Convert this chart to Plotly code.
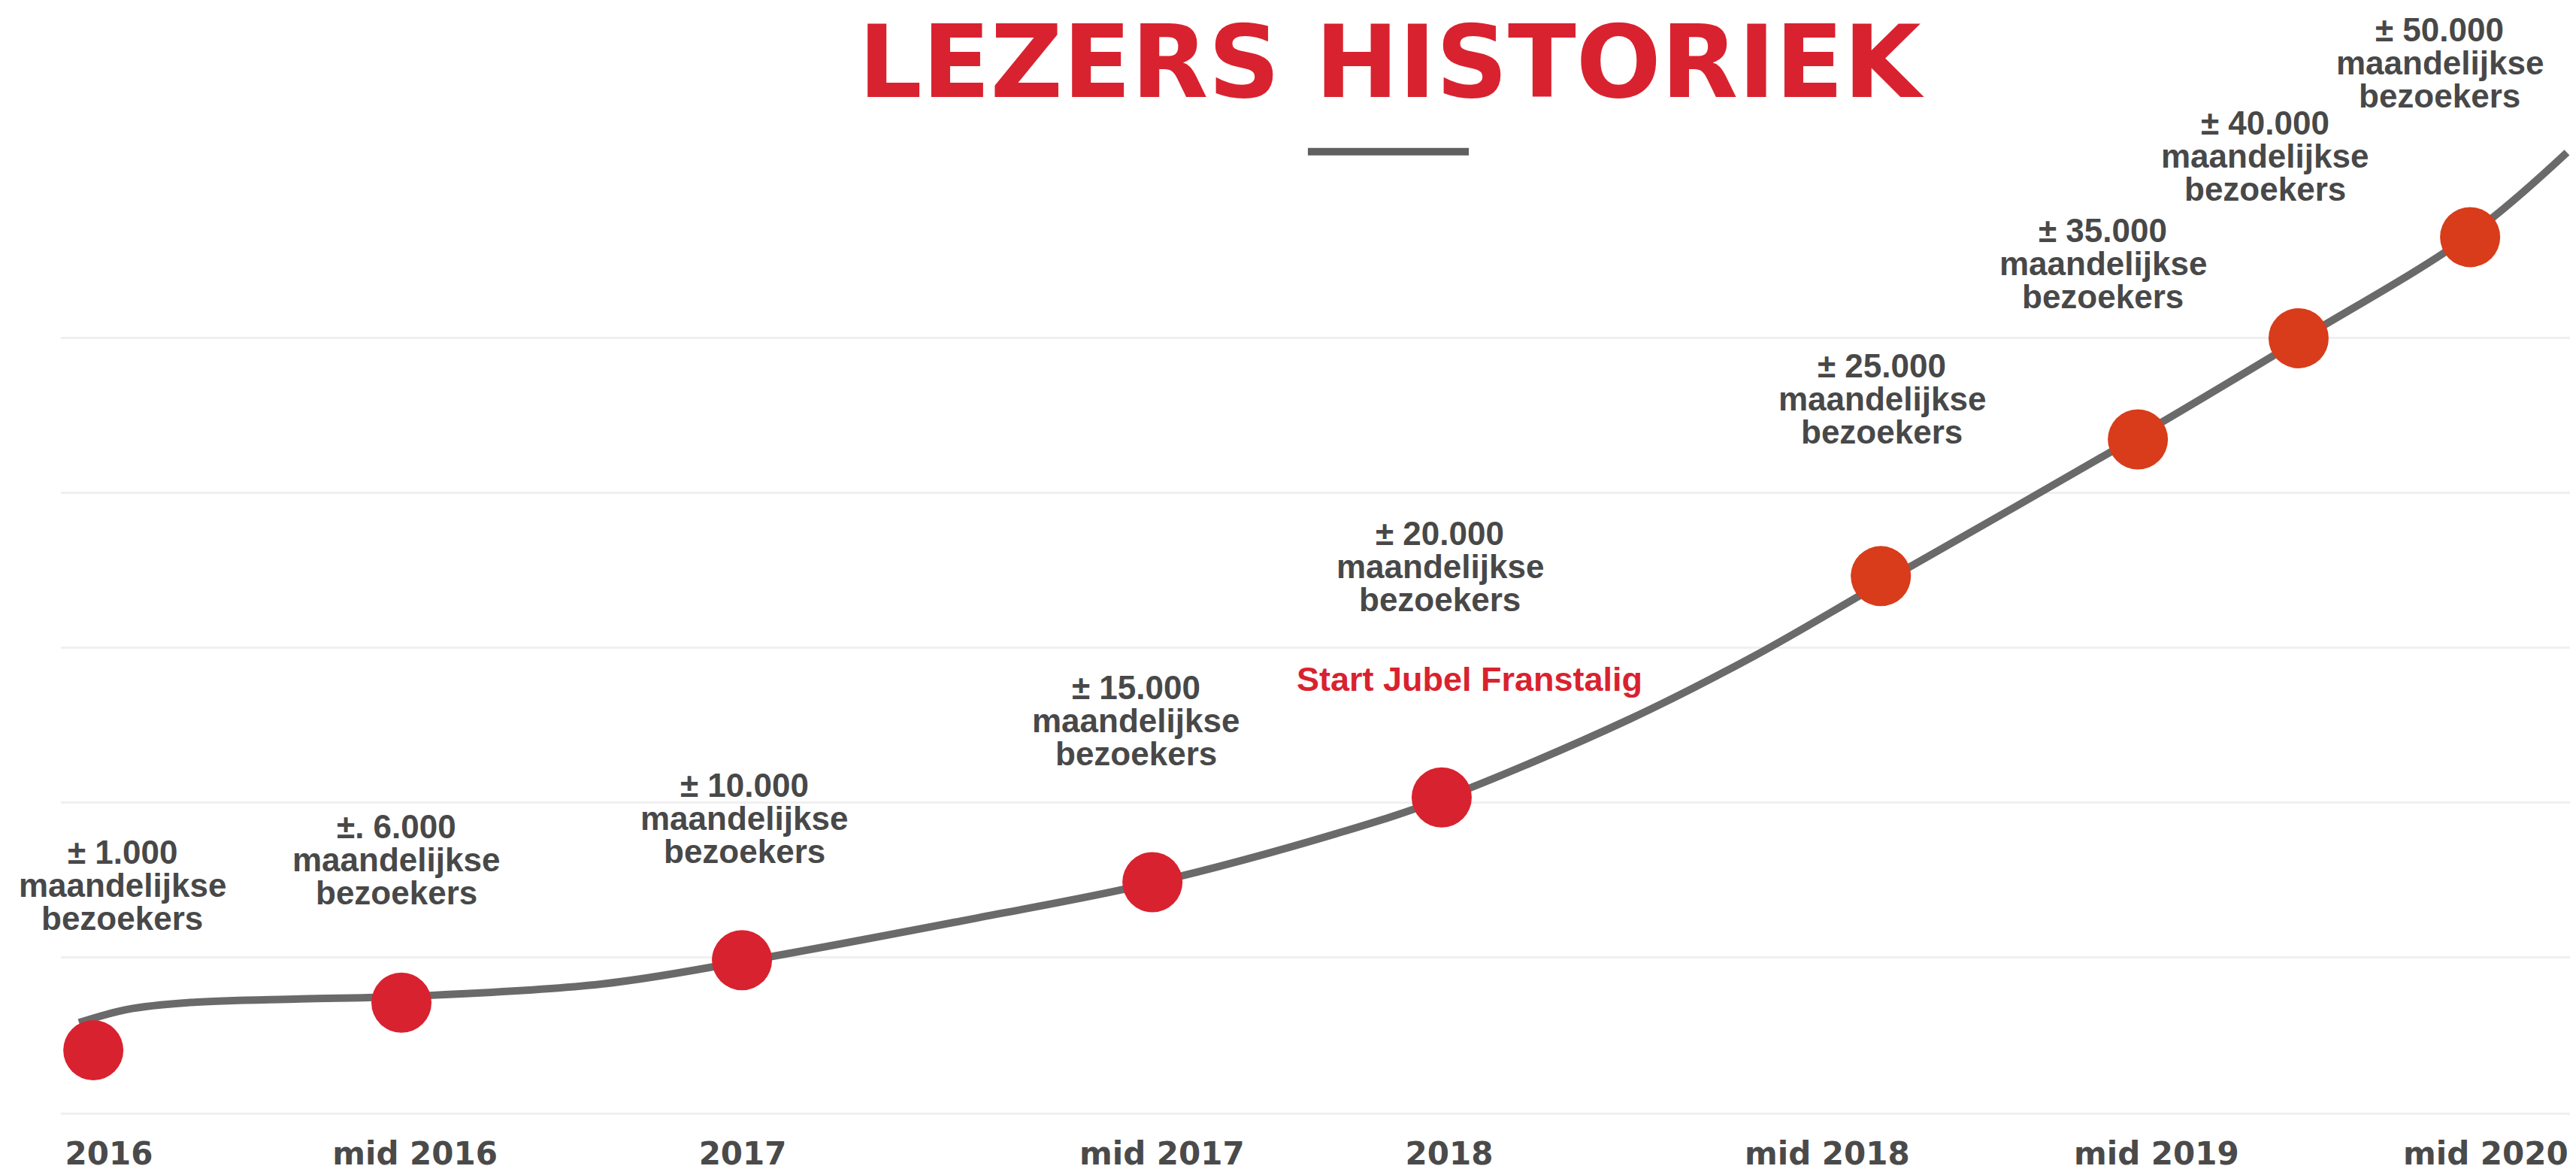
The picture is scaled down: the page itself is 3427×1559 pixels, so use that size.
import plotly.graph_objects as go

# ---------------- data (arbitrary position units) ----------------
# x: horizontal position on a 0-100 scale; y: height on a scale where gridlines are every 10
point_x = [1.29, 13.54, 27.08, 43.40, 54.90, 72.36, 82.58, 88.97, 95.79]
point_y = [4.03, 7.10, 9.84, 14.88, 20.35, 34.64, 43.47, 50.00, 56.53]

# smoothed growth curve drawn behind the dots
curve_x = [0.72, 2.66, 5.05, 9.53, 13.54, 21.49, 27.08, 36.43, 43.40,
           50.87, 54.90, 62.34, 67.30, 72.36, 82.58, 88.97, 95.79, 99.64]
curve_y = [5.81, 6.67, 7.10, 7.34, 7.49, 8.30, 9.74, 12.57, 14.83,
           18.09, 20.25, 25.38, 29.46, 34.17, 43.67, 49.86, 56.67, 61.99]

# visitor labels
label_values = ["± 1.000", "±. 6.000", "± 10.000", "± 15.000", "± 20.000",
                "± 25.000", "± 35.000", "± 40.000", "± 50.000"]
label_x = [2.45, 13.33, 27.17, 42.74, 54.84, 72.41, 81.20, 87.63, 94.59]
label_top_y = [16.84, 18.47, 21.16, 27.47, 37.38, 48.22, 56.96, 63.92, 69.91]

# x-axis tick labels
tick_pos = [1.91, 14.08, 27.11, 43.78, 55.20, 70.23, 83.32, 96.41]
tick_text = ["2016", "mid 2016", "2017", "mid 2017", "2018", "mid 2018", "mid 2019", "mid 2020"]

grid_vals = [0, 10, 20, 30, 40, 50]

# ---------------- styling ----------------
# the page body adds an 8px offset, so the figure is 8px smaller than the window
W, H = 3419, 1551
RED = "#d9222f"
ORANGE = "#d83c1b"
dot_colors = [RED] * 5 + [ORANGE] * 4
TEXT_GREY = "#484848"
LINE_GREY = "#6a6a6a"
LINE_GAP = 2.135  # vertical gap between label lines (y units)

fig = go.Figure()

fig.add_trace(go.Scatter(
    x=curve_x, y=curve_y, mode="lines",
    line=dict(color=LINE_GREY, width=10, shape="spline", smoothing=1.0),
    hoverinfo="skip", showlegend=False, cliponaxis=False,
))
fig.add_trace(go.Scatter(
    x=point_x, y=point_y, mode="markers",
    marker=dict(size=80, color=dot_colors, line=dict(width=0), opacity=1),
    showlegend=False, cliponaxis=False,
))

lab_font = dict(family="Liberation Sans, Arial, sans-serif", size=44, color=TEXT_GREY, weight="bold")
annotations = []
for txt, lx, ly in zip(label_values, label_x, label_top_y):
    for i, line in enumerate([txt, "maandelijkse", "bezoekers"]):
        annotations.append(dict(
            x=lx, y=ly - i * LINE_GAP, xref="x", yref="y", text=line,
            showarrow=False, xanchor="center", yanchor="middle", font=lab_font,
            borderpad=0,
        ))

annotations.append(dict(
    x=56.01, y=27.97, xref="x", yref="y", text="Start Jubel Franstalig",
    showarrow=False, xanchor="center", yanchor="middle", borderpad=0,
    font=dict(family="Liberation Sans, Arial, sans-serif", size=45, color=RED, weight="bold"),
))

annotations.append(dict(
    x=0.529, y=0.9490, xref="paper", yref="paper", text="LEZERS HISTORIEK",
    showarrow=False, xanchor="center", yanchor="middle", borderpad=0,
    font=dict(family="DejaVu Sans, sans-serif", size=133, color=RED, weight="bold"),
))

fig.update_layout(
    width=W, height=H,
    margin=dict(l=73, r=0, t=0, b=62),
    paper_bgcolor="white", plot_bgcolor="white",
    showlegend=False,
    annotations=annotations,
    shapes=[dict(type="rect", xref="paper", yref="paper",
                 x0=0.4958, x1=0.5598, y0=0.8650, y1=0.8717,
                 fillcolor="#606060", line=dict(width=0))],
    xaxis=dict(
        range=[0, 100], showgrid=False, zeroline=False,
        showline=True, linecolor="#f0f0f0", linewidth=3,
        tickmode="array", tickvals=tick_pos, ticktext=tick_text, ticks="",
        tickfont=dict(family="DejaVu Sans, sans-serif", size=42, color="#4a4a4a", weight="bold"),
        ticklabelstandoff=16, fixedrange=True,
    ),
    yaxis=dict(
        range=[0, 71.45], showgrid=True, gridcolor="#f0f0f0", gridwidth=3,
        zeroline=False, showticklabels=False, ticks="",
        tickmode="array", tickvals=grid_vals, fixedrange=True,
    ),
)

fig.write_html("out.html")
